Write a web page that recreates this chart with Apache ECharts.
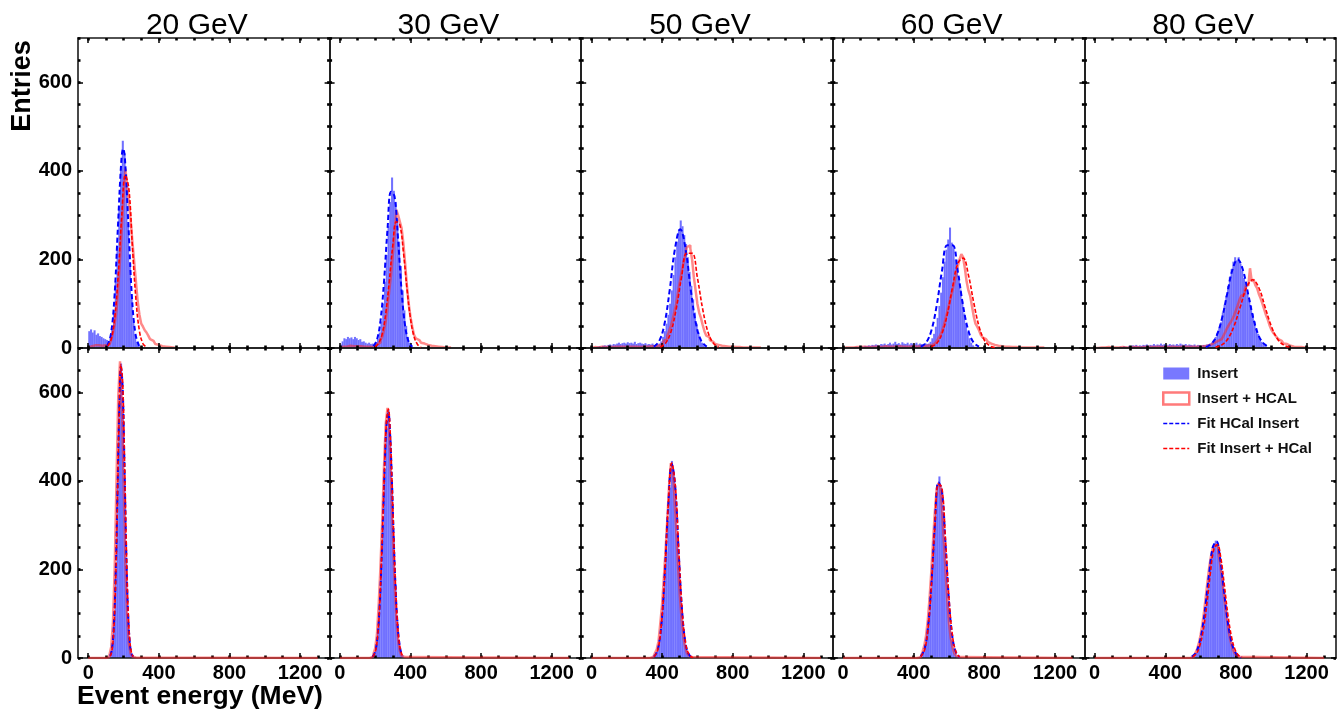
<!DOCTYPE html>
<html><head><meta charset="utf-8">
<script src="https://cdn.jsdelivr.net/npm/echarts@6/dist/echarts.min.js"></script>
<style>html,body{margin:0;padding:0;background:#fff}#c{width:1337px;height:718px}</style>
</head><body><div id="c"></div>
<script>
// ---------------- DATA ----------------
const beamEnergies = ['20 GeV', '30 GeV', '50 GeV', '60 GeV', '80 GeV'];
const binWidth = 10; // MeV
const xTicks = [0, 400, 800, 1200];
const xMinorTicks = [0, 100, 200, 300, 400, 500, 600, 700, 800, 900, 1000, 1100, 1200, 1300];
const yTicks = [0, 200, 400, 600];
const yMinorTicks = [0, 50, 100, 150, 200, 250, 300, 350, 400, 450, 500, 550, 600, 650, 700];
const legendNames = ['Insert', 'Insert + HCAL', 'Fit HCal Insert', 'Fit Insert + HCal'];

// first bin (MeV) of each histogram
const insTopStart = [0, 0, 0, 0, 0];
const hcalTopStart = [0, 0, 0, 0, 0];
const insBotStart = [100, 170, 330, 420, 540];
const hcalBotStart = [100, 170, 330, 420, 540];

// top row (Insert / Insert + HCAL), 10 MeV bins
const insTop20 = [38, 42, 35, 40, 30, 33, 27, 25, 22, 20, 18, 14, 22, 45, 85, 150, 230, 320, 410, 468, 440, 370, 280, 190, 115, 60, 30, 14, 6, 3, 1];
const hcalTop20 = [2, 4, 5, 6, 5, 6, 4, 5, 4, 6, 5, 8, 10, 18, 35, 55, 85, 135, 200, 270, 340, 405, 370, 330, 290, 240, 195, 150, 105, 75, 55, 48, 40, 35, 28, 20, 16, 12, 9, 7, 6, 4, 4, 3, 3, 2, 2, 1, 1];
const insTop30 = [8, 15, 22, 20, 25, 22, 24, 20, 25, 22, 18, 20, 14, 15, 12, 10, 12, 9, 10, 8, 12, 20, 35, 60, 100, 150, 210, 275, 330, 385, 355, 330, 290, 240, 185, 130, 85, 50, 25, 12, 5, 2];
const hcalTop30 = [2, 3, 4, 3, 4, 5, 4, 4, 5, 4, 3, 4, 3, 3, 2, 3, 3, 2, 3, 3, 5, 8, 12, 18, 25, 40, 60, 90, 130, 165, 210, 255, 312, 300, 285, 270, 235, 190, 140, 100, 70, 48, 30, 22, 18, 14, 12, 10, 8, 7, 6, 5, 4, 4, 3, 3, 2, 2, 2, 1, 1, 1, 1];
const insTop50 = [1, 2, 2, 3, 4, 3, 5, 6, 5, 7, 8, 6, 9, 8, 10, 12, 9, 11, 12, 10, 13, 11, 12, 10, 14, 9, 11, 12, 10, 9, 11, 8, 9, 8, 10, 7, 9, 8, 10, 15, 25, 38, 55, 75, 100, 130, 165, 205, 240, 268, 288, 275, 255, 235, 205, 172, 140, 110, 80, 55, 35, 22, 12, 6, 3, 1];
const hcalTop50 = [1, 2, 2, 1, 2, 3, 2, 2, 3, 2, 3, 2, 3, 3, 2, 3, 2, 3, 3, 2, 3, 3, 2, 3, 2, 3, 3, 2, 3, 3, 2, 3, 3, 4, 3, 4, 4, 5, 6, 8,
  12, 16, 20, 28, 38, 50, 65, 82, 100, 125, 148, 170, 190, 208, 228, 232, 225, 200, 160, 130, 100, 80, 68, 52, 38, 28, 24, 18, 14, 11, 9, 7, 6, 5, 5, 4, 4, 3, 3, 3, 2, 2, 2, 2, 2, 1, 1, 1, 1, 1, 1, 1, 1, 1, 1, 1];
const insTop60 = [0, 1, 1, 2, 1, 2, 2, 3, 2, 3, 4, 3, 5, 4, 6, 5, 7, 6, 8, 7, 6, 9, 8, 10, 7, 9, 12, 8, 10, 14, 9, 11, 8, 13, 10, 9, 12, 8, 11, 10, 9, 12, 8, 10, 9, 8, 11, 9, 10, 14, 22, 32, 48, 68, 95, 125, 160, 195, 222, 245, 272, 238, 225, 200, 180, 160, 132, 105, 78, 55, 36, 22, 12, 6, 3, 1];
const hcalTop60 = [0, 1, 1, 1, 2, 1, 2, 2, 1, 2, 2, 3, 2, 2, 3, 2, 3, 3, 2, 3, 3, 2, 3, 4, 3, 3, 2, 3, 4, 3, 3, 4, 3, 3, 4, 3, 4, 3, 3, 4, 4, 3, 4, 4, 5, 4, 4, 5, 5,
  6, 8, 10, 12, 15, 22, 28, 38, 50, 65, 82, 98, 115, 130, 148, 165, 185, 200, 212, 205, 180, 150, 130, 118, 95, 72, 55, 48, 40, 30, 24, 20, 18, 14, 10, 8, 7, 6, 5, 5, 4, 4, 3, 3, 3, 2, 2, 2, 2, 2, 1,
  1, 1, 1, 1, 1, 1, 1, 1, 1, 1, 1, 1, 1, 1];
const insTop80 = [0, 0, 1, 0, 1, 1, 0, 1, 1, 2, 1, 2, 1, 2, 3, 2, 4, 3, 2, 5, 4, 6, 5, 7, 4, 6, 5, 7, 6, 8, 5, 7, 6, 9, 6, 8, 7, 10, 7, 9, 8, 6, 9, 7, 8, 6, 9, 7, 10, 8, 7, 9, 6, 8, 7, 6, 8, 5, 7, 6, 5, 7, 6, 8, 9, 10, 13, 18, 25, 34, 45, 58, 80, 98, 118, 140, 160, 178, 195, 205, 198, 205, 190, 175, 158, 140, 125, 108, 95, 78, 60, 45, 32, 22, 14, 8, 4, 2, 1];
const hcalTop80 = [1, 0, 1, 1, 2, 1, 1, 2, 1, 1, 2, 1, 2, 1, 1, 2, 2, 1, 2, 1, 2, 2, 1, 2, 2, 1, 2, 2, 3, 2, 2, 2, 3, 2, 2, 3, 2, 2, 3, 2, 3, 2, 2, 3, 3, 2, 3, 2, 3, 3, 2, 3, 3, 3, 2, 3, 3, 3, 3, 3,
  3, 4, 4, 5, 6, 8, 10, 12, 14, 16, 17, 20, 22, 28, 36, 45, 52, 58, 65, 74, 85, 96, 108, 118, 122, 132, 145, 140, 180, 150, 155, 142, 135, 122, 112, 100, 88, 75, 65, 52, 42, 35, 30, 25, 20, 16, 12, 10, 9, 7, 5, 4, 3, 3, 2, 2, 2, 1, 1, 1, 1];

// bottom row (Insert / Insert + HCAL), 10 MeV bins
const insBot20 = [1, 3, 8, 28, 85, 200, 390, 580, 665, 570, 400, 215, 95, 30, 8, 2, 1];
const hcalBot20 = [1, 2, 7, 25, 80, 205, 400, 590, 670, 580, 410, 220, 98, 32, 10, 3, 1];
const insBot30 = [1, 4, 10, 25, 55, 125, 215, 300, 420, 520, 560, 500, 390, 270, 165, 85, 38, 14, 5, 1];
const hcalBot30 = [1, 3, 9, 22, 52, 120, 205, 310, 430, 530, 565, 510, 400, 280, 170, 90, 40, 15, 5, 2];
const insBot50 = [1, 3, 6, 12, 22, 40, 80, 125, 185, 240, 310, 385, 445, 420, 360, 280, 205, 140, 85, 48, 25, 12, 5, 2, 1];
const hcalBot50 = [1, 2, 5, 11, 20, 38, 78, 120, 180, 245, 315, 390, 440, 430, 365, 290, 210, 145, 90, 50, 26, 12, 6, 2, 1];
const insBot60 = [1, 3, 8, 16, 30, 55, 90, 140, 200, 270, 335, 390, 410, 385, 330, 260, 190, 125, 75, 42, 22, 10, 4, 2, 1];
const hcalBot60 = [1, 2, 6, 14, 28, 50, 85, 135, 195, 265, 330, 380, 395, 390, 340, 270, 200, 132, 80, 45, 24, 11, 5, 2, 1];
const insBot80 = [1, 3, 6, 12, 22, 35, 55, 80, 110, 145, 180, 215, 240, 258, 265, 255, 238, 212, 180, 145, 110, 80, 55, 35, 20, 12, 6, 3, 1];
const hcalBot80 = [1, 2, 5, 10, 20, 33, 52, 76, 105, 140, 175, 208, 232, 250, 256, 252, 240, 215, 185, 150, 115, 85, 58, 38, 22, 13, 7, 3, 1];

// fit curves: [energy MeV, entries]
const fitInsTop20 = [[108, 5], [128, 30], [148, 112], [168, 273], [188, 426], [198, 450], [208, 426], [228, 273], [248, 112], [268, 30], [288, 5]];
const fitHcalTop20 = [[110, 4], [130, 20], [150, 68], [170, 166], [190, 300], [210, 390], [230, 360], [250, 230], [270, 111], [290, 38], [310, 10], [330, 2]];
const fitInsTop30 = [[190, 4], [210, 18], [230, 61], [250, 149], [270, 268], [290, 353], [310, 342], [330, 244], [350, 128], [370, 49], [390, 14], [410, 3]];
const fitHcalTop30 = [[200, 3], [220, 11], [240, 32], [260, 78], [280, 151], [300, 232], [320, 285], [340, 278], [360, 217], [380, 135], [400, 67], [420, 26], [440, 8], [460, 2]];
const fitInsTop50 = [[353, 3], [383, 15], [413, 53], [443, 130], [473, 224], [503, 268], [533, 224], [563, 130], [593, 53], [623, 15], [653, 3]];
const fitHcalTop50 = [[390, 2], [420, 11], [450, 36], [480, 88], [510, 159], [540, 214], [570, 214], [600, 159], [630, 88], [660, 36], [690, 11], [720, 2]];
const fitInsTop60 = [[440, 3], [470, 12], [500, 39], [530, 95], [560, 173], [590, 232], [620, 232], [650, 173], [680, 95], [710, 39], [740, 12], [770, 3]];
const fitHcalTop60 = [[500, 3], [530, 10], [560, 32], [590, 75], [620, 137], [650, 191], [680, 203], [710, 165], [740, 103], [770, 49], [800, 18], [830, 5], [860, 1]];
const fitInsTop80 = [[630, 2], [660, 9], [690, 27], [720, 65], [750, 121], [780, 176], [810, 200], [840, 176], [870, 121], [900, 65], [930, 27], [960, 9], [990, 2]];
const fitHcalTop80 = [[685, 2], [720, 7], [755, 21], [790, 50], [825, 93], [860, 136], [895, 154], [930, 136], [965, 93], [1000, 50], [1035, 21], [1070, 7], [1105, 2]];

const fitInsBot20 = [[125, 5], [135, 22], [145, 73], [155, 183], [165, 360], [175, 551], [185, 657], [195, 609], [205, 440], [215, 248], [225, 108], [235, 37], [245, 10], [255, 3]];
const fitHcalBot20 = [[125, 4], [135, 18], [145, 62], [155, 165], [165, 340], [175, 540], [185, 662], [195, 622], [205, 460], [215, 265], [225, 118], [235, 42], [245, 12], [255, 3]];
const fitInsBot30 = [[185, 3], [195, 9], [205, 23], [215, 55], [225, 114], [235, 206], [245, 323], [255, 444], [265, 531], [275, 553], [285, 503], [295, 399], [305, 275], [315, 165], [325, 87], [335, 40], [345, 16], [355, 5]];
const fitHcalBot30 = [[185, 3], [195, 8], [205, 21], [215, 52], [225, 112], [235, 208], [245, 328], [255, 450], [265, 538], [275, 562], [285, 512], [295, 405], [305, 280], [315, 168], [325, 88], [335, 40], [345, 16], [355, 5]];
const fitInsBot50 = [[355, 3], [375, 18], [395, 71], [415, 188], [435, 345], [455, 438], [475, 385], [495, 234], [515, 99], [535, 29], [555, 6], [575, 1]];
const fitHcalBot50 = [[355, 3], [375, 17], [395, 70], [415, 186], [435, 345], [455, 440], [475, 390], [495, 240], [515, 102], [535, 30], [555, 6], [575, 1]];
const fitInsBot60 = [[440, 4], [460, 18], [480, 65], [500, 165], [520, 301], [540, 397], [560, 378], [580, 260], [600, 129], [620, 46], [640, 12], [660, 2]];
const fitHcalBot60 = [[440, 3], [460, 16], [480, 60], [500, 158], [520, 295], [540, 392], [560, 385], [580, 270], [600, 136], [620, 50], [640, 13], [660, 2]];
const fitInsBot80 = [[550, 3], [570, 10], [590, 29], [610, 66], [630, 126], [650, 196], [670, 251], [690, 263], [710, 227], [730, 161], [750, 94], [770, 45], [790, 18], [810, 6], [830, 1]];
const fitHcalBot80 = [[555, 3], [575, 9], [595, 27], [615, 62], [635, 120], [655, 190], [675, 245], [695, 256], [715, 225], [735, 163], [755, 97], [775, 48], [795, 19], [815, 6], [835, 2]];

// ---------------- LAYOUT / STYLE ----------------
const insTop = [insTop20, insTop30, insTop50, insTop60, insTop80];
const hcalTop = [hcalTop20, hcalTop30, hcalTop50, hcalTop60, hcalTop80];
const insBot = [insBot20, insBot30, insBot50, insBot60, insBot80];
const hcalBot = [hcalBot20, hcalBot30, hcalBot50, hcalBot60, hcalBot80];
const fitInsTop = [fitInsTop20, fitInsTop30, fitInsTop50, fitInsTop60, fitInsTop80];
const fitHcalTop = [fitHcalTop20, fitHcalTop30, fitHcalTop50, fitHcalTop60, fitHcalTop80];
const fitInsBot = [fitInsBot20, fitInsBot30, fitInsBot50, fitInsBot60, fitInsBot80];
const fitHcalBot = [fitHcalBot20, fitHcalBot30, fitHcalBot50, fitHcalBot60, fitHcalBot80];

const FONT = 'Liberation Sans, Arial, Helvetica, sans-serif';
const X_MIN = -58, X_MAX = 1367, Y_MIN = 0, Y_MAX = 700;
const PANEL_LEFT0 = 78, PANEL_W = 251.6, ROW_TOP = [38, 348], PANEL_H = 310;
const BLUE_FILL = '#6f6fff';
const RED_LINE = 'rgba(255,40,40,0.55)';
const AXIS_COLOR = '#1a1a1a';

function histPoints(start, vals, from, to) {
  const pts = [];
  if (from !== undefined && from < start) pts.push([from, 0]);
  pts.push([start, 0]);
  vals.forEach((v, i) => pts.push([start + i * binWidth, v]));
  const end = start + vals.length * binWidth;
  pts.push([end, 0]);
  if (to !== undefined && to > end) pts.push([to, 0]);
  return pts;
}

function renderBin(params, api) {
  const x0 = api.value(0), v = api.value(1);
  const p0 = api.coord([x0, v]);
  const p1 = api.coord([x0 + binWidth, 0]);
  return {
    type: 'rect',
    shape: { x: p0[0], y: p0[1], width: p1[0] - p0[0] + 0.3, height: p1[1] - p0[1] },
    style: { fill: BLUE_FILL, stroke: 'rgba(255,255,255,0.18)', lineWidth: 0.3 }
  };
}

const grid = [], xAxis = [], yAxis = [], series = [], graphic = [];
for (let r = 0; r < 2; r++) {
  for (let c = 0; c < 5; c++) {
    const g = r * 5 + c;
    grid.push({ left: PANEL_LEFT0 + c * PANEL_W, top: ROW_TOP[r], width: PANEL_W, height: PANEL_H, containLabel: false });
    const labelStyle = { fontFamily: FONT, fontWeight: 'bold', fontSize: 20, color: '#000', formatter: v => String(v) };
    const mk = (pos, ticks, len, w, line, labels, isX) => ({
      gridIndex: g, type: 'value', position: pos, z: 3,
      min: isX ? X_MIN : Y_MIN, max: isX ? X_MAX : Y_MAX,
      axisLine: { show: line, onZero: false, lineStyle: { color: AXIS_COLOR, width: 1.6 } },
      axisTick: { show: true, inside: true, length: len, customValues: ticks, lineStyle: { color: '#000', width: w } },
      axisLabel: labels ? Object.assign({ show: true, customValues: isX ? xTicks : yTicks, margin: isX ? 5 : 6 }, labelStyle) : { show: false },
      splitLine: { show: false }
    });
    // x axes: bottom major (data axis), bottom minor, top major, top minor
    xAxis.push(mk('bottom', xTicks, 5, 1.5, true, r === 1, true));
    xAxis.push(mk('bottom', xMinorTicks, 2.5, 2.6, false, false, true));
    xAxis.push(mk('top', xTicks, 5, 1.5, true, false, true));
    xAxis.push(mk('top', xMinorTicks, 2.5, 2.6, false, false, true));
    // y axes: left major (data axis), left minor, right major, right minor
    yAxis.push(mk('left', yTicks, 5, 1.5, true, c === 0, false));
    yAxis.push(mk('left', yMinorTicks, 2.5, 2.6, false, false, false));
    yAxis.push(mk('right', yTicks, 5, 1.5, true, false, false));
    yAxis.push(mk('right', yMinorTicks, 2.5, 2.6, false, false, false));

    const ax = g * 4;
    const ins = r === 0 ? insTop[c] : insBot[c];
    const hcal = r === 0 ? hcalTop[c] : hcalBot[c];
    const insS = r === 0 ? insTopStart[c] : insBotStart[c];
    const hcalS = r === 0 ? hcalTopStart[c] : hcalBotStart[c];
    const fI = r === 0 ? fitInsTop[c] : fitInsBot[c];
    const fH = r === 0 ? fitHcalTop[c] : fitHcalBot[c];

    series.push({
      name: legendNames[0], type: 'custom', xAxisIndex: ax, yAxisIndex: ax,
      data: ins.map((v, i) => [insS + i * binWidth, v]),
      encode: { x: 0, y: 1 }, renderItem: renderBin, clip: true, z: 2,
      itemStyle: { color: BLUE_FILL }
    });
    series.push({
      name: legendNames[1], type: 'line', xAxisIndex: ax, yAxisIndex: ax, step: 'end',
      data: r === 1 ? histPoints(hcalS, hcal, 0, 1300) : histPoints(hcalS, hcal), symbol: 'none', z: r === 1 ? 4 : 2,
      itemStyle: { color: '#ff7a7a' },
      lineStyle: { color: RED_LINE, width: 2.5 }
    });
    series.push({
      name: legendNames[2], type: 'line', xAxisIndex: ax, yAxisIndex: ax, smooth: 0.4,
      data: fI, symbol: 'none', z: 5,
      itemStyle: { color: '#0000ff' },
      lineStyle: { color: '#0000ff', width: 2, type: [5, 3] }
    });
    series.push({
      name: legendNames[3], type: 'line', xAxisIndex: ax, yAxisIndex: ax, smooth: 0.4,
      data: fH, symbol: 'none', z: 5,
      itemStyle: { color: '#ff0000' },
      lineStyle: { color: '#ff0000', width: 1.6, type: [4, 2] }
    });
  }
}

for (let c = 0; c < 5; c++) {
  graphic.push({
    type: 'text', x: PANEL_LEFT0 + c * PANEL_W + PANEL_W / 2 - 7, y: 26, z: 10,
    style: { text: beamEnergies[c], textAlign: 'center', textVerticalAlign: 'middle', font: 'normal 30px ' + FONT, fill: '#000' }
  });
}
graphic.push({
  type: 'text', x: 23, y: 86, rotation: Math.PI / 2, z: 10,
  style: { text: 'Entries', textAlign: 'center', textVerticalAlign: 'middle', font: 'bold 27px ' + FONT, fill: '#000' }
});
graphic.push({
  type: 'text', x: 77, y: 697, z: 10,
  style: { text: 'Event energy (MeV)', textAlign: 'left', textVerticalAlign: 'middle', font: 'bold 26.5px ' + FONT, fill: '#000' }
});

const option = {
  animation: false,
  backgroundColor: '#fff',
  grid, xAxis, yAxis, series, graphic,
  legend: {
    orient: 'vertical', left: 1157, top: 361, itemWidth: 26, itemHeight: 12, itemGap: 10,
    selectedMode: false,
    textStyle: { fontFamily: FONT, fontWeight: 'bold', fontSize: 15, color: '#111', padding: [0, 0, 0, 3] },
    data: [
      { name: legendNames[0], icon: 'rect', itemStyle: { color: '#7878ff' } },
      { name: legendNames[1], icon: 'rect', itemStyle: { color: '#ffffff', borderColor: '#ff7a7a', borderWidth: 2.5 } },
      { name: legendNames[2], itemStyle: { opacity: 0 }, lineStyle: { width: 1.5, type: [4, 2] } },
      { name: legendNames[3], itemStyle: { opacity: 0 }, lineStyle: { width: 1.5, type: [4, 2] } }
    ]
  }
};
const chart = echarts.init(document.getElementById('c'));
chart.setOption(option);
</script></body></html>
